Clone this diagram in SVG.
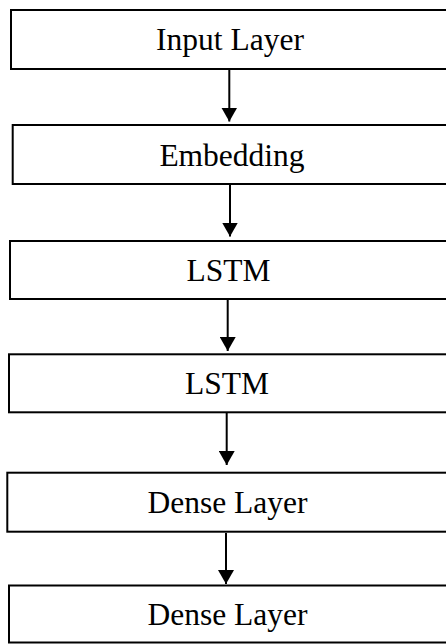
<svg xmlns="http://www.w3.org/2000/svg" width="446" height="644" viewBox="0 0 446 644">
<style>
  .box { fill: #ffffff; stroke: #000000; stroke-width: 2; }
  .lbl { font-family: "Liberation Serif", "Times New Roman", serif; font-size: 31.5px; fill: #000000; text-anchor: middle; }
  .conn { stroke: #000000; stroke-width: 2; fill: none; marker-end: url(#arrow); }
</style>
<defs>
  <marker id="arrow" viewBox="0 0 14 16" refX="14" refY="8" markerWidth="14" markerHeight="16" markerUnits="userSpaceOnUse" orient="auto">
    <path d="M0,0 L14,8 L0,16 z" fill="#000000"/>
  </marker>
</defs>
<rect x="0" y="0" width="446" height="644" fill="#ffffff"/>
<g id="connectors">
  <line class="conn" x1="229.3" y1="70" x2="229.3" y2="121.5"/>
  <line class="conn" x1="230" y1="185" x2="230" y2="236.5"/>
  <line class="conn" x1="227.7" y1="300" x2="227.7" y2="351"/>
  <line class="conn" x1="226.7" y1="413" x2="226.7" y2="465"/>
  <line class="conn" x1="226" y1="533" x2="226" y2="584"/>
</g>
<g id="node-input">
  <rect class="box" x="11" y="10" width="460" height="59"/>
  <text class="lbl" x="230" y="50">Input Layer</text>
</g>
<g id="node-embedding">
  <rect class="box" x="12.7" y="125" width="460" height="59"/>
  <text class="lbl" x="232" y="165.5">Embedding</text>
</g>
<g id="node-lstm1">
  <rect class="box" x="10" y="241" width="460" height="58"/>
  <text class="lbl" x="228.5" y="280.5">LSTM</text>
</g>
<g id="node-lstm2">
  <rect class="box" x="9" y="354.3" width="460" height="58"/>
  <text class="lbl" x="227" y="394">LSTM</text>
</g>
<g id="node-dense1">
  <rect class="box" x="7.3" y="472.7" width="460" height="59"/>
  <text class="lbl" x="227.5" y="513">Dense Layer</text>
</g>
<g id="node-dense2">
  <rect class="box" x="9" y="585.5" width="460" height="57"/>
  <text class="lbl" x="227.5" y="625">Dense Layer</text>
</g>
</svg>
